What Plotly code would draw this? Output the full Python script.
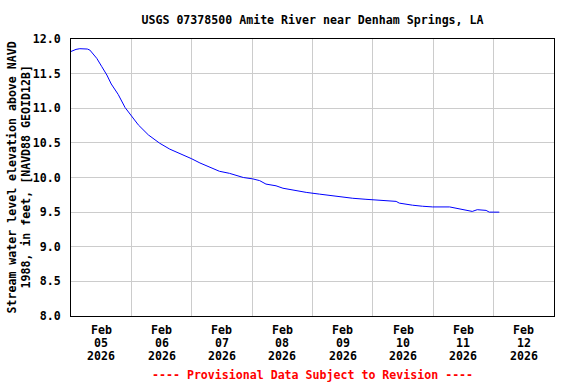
import plotly.graph_objects as go

times = [
    "2026-02-05 00:00", "2026-02-05 01:00", "2026-02-05 02:00", "2026-02-05 03:30",
    "2026-02-05 05:00", "2026-02-05 06:30", "2026-02-05 07:30", "2026-02-05 08:45",
    "2026-02-05 10:15", "2026-02-05 12:15", "2026-02-05 14:15", "2026-02-05 16:00",
    "2026-02-05 18:45", "2026-02-05 21:30", "2026-02-05 22:45", "2026-02-06 00:00",
    "2026-02-06 02:45", "2026-02-06 06:45", "2026-02-06 11:15", "2026-02-06 15:15",
    "2026-02-06 19:15", "2026-02-07 00:00", "2026-02-07 03:15", "2026-02-07 07:00",
    "2026-02-07 11:00", "2026-02-07 15:00", "2026-02-07 20:30", "2026-02-08 00:15",
    "2026-02-08 03:00", "2026-02-08 05:30", "2026-02-08 09:30", "2026-02-08 12:15",
    "2026-02-08 16:15", "2026-02-08 21:30", "2026-02-09 02:45", "2026-02-09 06:45",
    "2026-02-09 10:45", "2026-02-09 16:00", "2026-02-09 21:15", "2026-02-10 02:30",
    "2026-02-10 09:15", "2026-02-10 10:30", "2026-02-10 13:15", "2026-02-10 15:45",
    "2026-02-10 19:45", "2026-02-10 23:45", "2026-02-11 06:30", "2026-02-11 09:00",
    "2026-02-11 13:00", "2026-02-11 15:30", "2026-02-11 17:30", "2026-02-11 21:00",
    "2026-02-11 22:15", "2026-02-12 02:15",
]
levels = [
    11.82, 11.84, 11.85, 11.86, 11.86, 11.855, 11.84, 11.79, 11.72, 11.60,
    11.48, 11.35, 11.20, 11.01, 10.95, 10.89, 10.76, 10.615, 10.495, 10.41,
    10.35, 10.27, 10.21, 10.15, 10.09, 10.06, 10.00, 9.98, 9.955, 9.905,
    9.88, 9.845, 9.815, 9.785, 9.76, 9.74, 9.73, 9.70, 9.685, 9.67,
    9.655, 9.63, 9.61, 9.60, 9.585, 9.575, 9.575, 9.555, 9.53, 9.51,
    9.535, 9.525, 9.50, 9.50,
]

tick_dates = ["2026-02-05 12:00", "2026-02-06 12:00", "2026-02-07 12:00", "2026-02-08 12:00",
              "2026-02-09 12:00", "2026-02-10 12:00", "2026-02-11 12:00", "2026-02-12 12:00"]
tick_month = ["Feb"] * 8
tick_day = ["05", "06", "07", "08", "09", "10", "11", "12"]
tick_year = ["2026"] * 8
y_ticks = [8.0, 8.5, 9.0, 9.5, 10.0, 10.5, 11.0, 11.5, 12.0]

FONT = "DejaVu Sans Mono"
FS = 11.6

fig = go.Figure()
fig.add_trace(go.Scatter(x=times, y=levels, mode="lines",
                         line=dict(color="#0000ff", width=1), showlegend=False,
                         hoverinfo="skip"))

fig.update_layout(
    width=576, height=384,
    margin=dict(l=71, r=22, t=39, b=68, autoexpand=False),
    paper_bgcolor="white", plot_bgcolor="white",
    font=dict(family=FONT, size=FS, color="black", weight="bold"),
    title=dict(text="USGS 07378500 Amite River near Denham Springs, LA",
               x=0.5, xref="paper", xanchor="center", y=364/384, yref="container",
               yanchor="middle",
               font=dict(family=FONT, size=FS, color="black", weight="bold")),
    xaxis=dict(
        type="date", automargin=False,
        range=["2026-02-05 00:00", "2026-02-13 00:00"],
        tickmode="array", tickvals=tick_dates, ticktext=[""] * len(tick_dates),
        showgrid=False, ticks="",
        showline=True, linecolor="black", linewidth=1, mirror=True,
        zeroline=False,
        minor=dict(dtick=86400000, tick0="2026-02-05", showgrid=True,
                   gridcolor="#cccccc", gridwidth=1, ticks=""),
    ),
    yaxis=dict(
        automargin=False,
        range=[8.0, 12.0],
        tickmode="array", tickvals=y_ticks, ticktext=[f"{v:.1f}" for v in y_ticks],
        showgrid=True, gridcolor="#cccccc", gridwidth=1,
        ticks="", ticklabelstandoff=7,
        showline=True, linecolor="black", linewidth=1, mirror=True,
        zeroline=False,
        tickfont=dict(family=FONT, size=FS, color="black", weight="bold"),
    ),
)

# Multi-line date tick labels (tight line spacing as in the reference)
for rows, shift in ((tick_month, -14), (tick_day, -27), (tick_year, -40)):
    for d, t in zip(tick_dates, rows):
        fig.add_annotation(text=t, x=d, xref="x", y=0, yref="paper", yshift=shift,
                           xanchor="center", yanchor="middle", showarrow=False,
                           font=dict(family=FONT, size=FS, color="black", weight="bold"))

# Y-axis title, two lines
for txt, xs in (("Stream water level elevation above NAVD", -60),
                ("1988, in feet, [NAVD88 GEOID12B]", -46)):
    fig.add_annotation(text=txt, x=0, xref="paper", y=0.5, yref="paper", xshift=xs,
                       textangle=-90, xanchor="center", yanchor="middle", showarrow=False,
                       font=dict(family=FONT, size=FS, color="black", weight="bold"))

fig.add_annotation(text="---- Provisional Data Subject to Revision ----",
                   xref="paper", yref="paper", x=0.5, y=0, yshift=-59,
                   xanchor="center", yanchor="middle", showarrow=False,
                   font=dict(family=FONT, size=FS, color="#ff0000", weight="bold"))

fig.write_html("out.html",
               config={"displayModeBar": False, "staticPlot": True},
               post_script="document.body.style.margin='0';document.body.style.overflow='hidden';")
